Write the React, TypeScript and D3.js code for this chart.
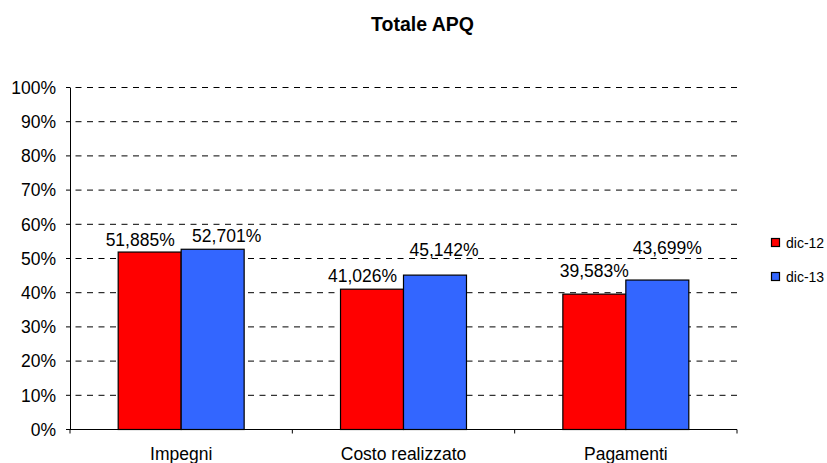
import React from 'react';
import * as d3 from 'd3';

const title = 'Totale APQ';
const categories = ['Impegni', 'Costo realizzato', 'Pagamenti'];
const seriesNames = ['dic-12', 'dic-13'];
const dic12 = [51.885, 41.026, 39.583];
const dic13 = [52.701, 45.142, 43.699];
const yTicks = [0, 10, 20, 30, 40, 50, 60, 70, 80, 90, 100];

// style: label nudges (px) per series, per category
const labelDx = [[-9.5, -9.5, 0], [14, 9, 10]];
const labelDy = [[-6, -7, -17], [-7, -19, -26]];
const colors = ['#FF0000', '#3366FF'];

const W = 827;
const H = 463;
const FONT = '"Liberation Sans", Arial, sans-serif';

const itLocale = d3.formatLocale({ decimal: ',', thousands: '.', grouping: [3], currency: ['€', ''] });
const fmt = itLocale.format('.3f');

export default function App() {
  const left = 70;
  const right = 737;
  const y = d3.scaleLinear().domain([0, 100]).range([429.5, 87.5]);
  const x0 = d3.scaleBand<string>().domain(categories).range([left, right]).padding(0);
  const x1 = d3
    .scaleBand<string>()
    .domain(seriesNames)
    .range([0, x0.bandwidth()])
    .paddingInner(0)
    .paddingOuter(0.765);
  const series = [dic12, dic13];
  const boundaries = [...categories.map((c) => x0(c) as number), right];

  return (
    <svg
      width={W}
      height={H}
      style={{ position: 'absolute', left: 0, top: 0, background: '#fff' }}
      fontFamily={FONT}
    >
      <rect x={0} y={0} width={W} height={H} fill="#fff" />
      <text x={422.5} y={30.5} textAnchor="middle" fontWeight="bold" fontSize={19.5} fill="#000">
        {title}
      </text>

      {/* gridlines */}
      {yTicks.filter((t) => t > 0).map((t) => (
        <line
          key={'g' + t}
          x1={left}
          x2={right}
          y1={y(t)}
          y2={y(t)}
          stroke="#000"
          strokeWidth={1}
          strokeDasharray="6 5.5"
          strokeDashoffset={6}
        />
      ))}

      {/* y axis */}
      <line x1={left + 0.5} x2={left + 0.5} y1={y(100)} y2={y(0)} stroke="#000" />
      {yTicks.map((t) => (
        <g key={'t' + t}>
          <line x1={left - 4} x2={left} y1={y(t)} y2={y(t)} stroke="#000" />
          <text x={56} y={y(t) + 6.2} textAnchor="end" fontSize={17.5} fill="#000">
            {t + '%'}
          </text>
        </g>
      ))}

      {/* bars */}
      {categories.map((c, ci) => (
        <g key={c}>
          {series.map((s, si) => {
            const bx = (x0(c) as number) + (x1(seriesNames[si]) as number);
            const by = y(s[ci]);
            return (
              <rect
                key={si}
                x={bx}
                y={by}
                width={x1.bandwidth()}
                height={y(0) - by}
                fill={colors[si]}
                stroke="#000"
                strokeWidth={1.2}
              />
            );
          })}
        </g>
      ))}

      {/* x axis */}
      <line x1={left} x2={right} y1={y(0)} y2={y(0)} stroke="#000" />
      {boundaries.map((b, i) => (
        <line key={'xb' + i} x1={b} x2={b} y1={y(0)} y2={y(0) + 4} stroke="#000" />
      ))}
      {categories.map((c) => (
        <text
          key={'xl' + c}
          x={(x0(c) as number) + x0.bandwidth() / 2}
          y={460}
          textAnchor="middle"
          fontSize={17.5}
          fill="#000"
        >
          {c}
        </text>
      ))}

      {/* data labels */}
      {categories.map((c, ci) =>
        series.map((s, si) => {
          const bx = (x0(c) as number) + (x1(seriesNames[si]) as number) + x1.bandwidth() / 2;
          return (
            <text
              key={'dl' + ci + si}
              x={bx + labelDx[si][ci]}
              y={y(s[ci]) + labelDy[si][ci]}
              textAnchor="middle"
              fontSize={17.5}
              fill="#000"
            >
              {fmt(s[ci]) + '%'}
            </text>
          );
        })
      )}

      {/* legend */}
      {seriesNames.map((n, i) => (
        <g key={'lg' + n}>
          <rect x={771.5} y={238.5 + i * 34} width={8} height={8} fill={colors[i]} stroke="#000" strokeWidth={1.2} />
          <text x={786} y={248 + i * 34} fontSize={14} fill="#000">
            {n}
          </text>
        </g>
      ))}
    </svg>
  );
}
